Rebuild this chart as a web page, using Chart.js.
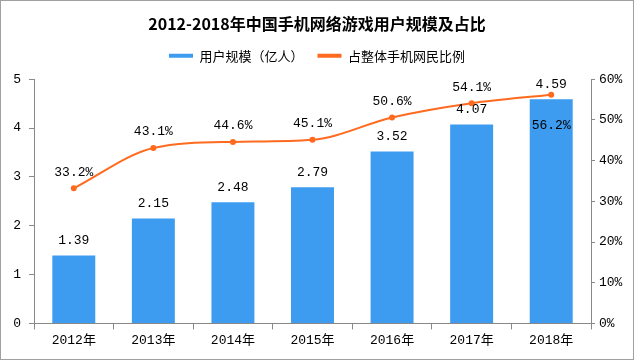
<!DOCTYPE html>
<html><head><meta charset="utf-8">
<script src="https://cdn.jsdelivr.net/npm/chart.js@4/dist/chart.umd.min.js"></script>
<style>html,body{margin:0;padding:0;background:#fff}#wrap{width:634px;height:360px;position:relative}</style>
</head><body><div id="wrap"><canvas id="c" width="634" height="360"></canvas></div>
<script>
const categories = ['2012年','2013年','2014年','2015年','2016年','2017年','2018年'];
const users = [1.39, 2.15, 2.48, 2.79, 3.52, 4.07, 4.59];
const share = [33.2, 43.1, 44.6, 45.1, 50.6, 54.1, 56.2];
const leftTicks = [0,1,2,3,4,5];
const rightTicks = [0,10,20,30,40,50,60];

const BLUE = '#3E9CF0', ORANGE = '#FF6A1F';
const LBLFONT = '13px "Liberation Mono", "Noto Sans CJK SC", monospace';

const labelsPlugin = {
  id: 'lbls',
  afterDatasetsDraw(chart) {
    const ctx = chart.ctx;
    ctx.save();
    ctx.font = LBLFONT; ctx.fillStyle = '#000'; ctx.textAlign = 'center'; ctx.textBaseline = 'middle';
    chart.getDatasetMeta(0).data.forEach((el, i) => {
      ctx.fillText(users[i].toFixed(2), el.x, el.y - 15);
    });
    const n = share.length;
    chart.getDatasetMeta(1).data.forEach((el, i) => {
      const dy = (i === n - 1) ? 31 : -16;
      ctx.fillText(share[i].toFixed(1) + '%', el.x, el.y + dy);
    });
    ctx.restore();
  }
};
const borderPlugin = {
  id: 'brd',
  afterDraw(chart) {
    const ctx = chart.ctx;
    ctx.save(); ctx.strokeStyle = '#a0a0a0'; ctx.lineWidth = 1;
    ctx.strokeRect(0.5, 0.5, chart.width - 1, chart.height - 1);
    ctx.restore();
  }
};
const legendSpace = {
  id: 'legspace',
  beforeInit(chart) {
    const lg = chart.legend;
    const orig = lg.fit;
    lg.fit = function () { orig.call(this); this.height += 7; };
  }
};

new Chart(document.getElementById('c'), {
  data: {
    labels: categories,
    datasets: [
      { type: 'bar', label: '用户规模（亿人）', data: users, backgroundColor: BLUE, yAxisID: 'y', order: 2,
        categoryPercentage: 0.54, barPercentage: 1 },
      { type: 'line', label: '占整体手机网民比例', data: share, borderColor: ORANGE, backgroundColor: ORANGE,
        borderWidth: 2, pointRadius: 2, pointHoverRadius: 2, yAxisID: 'y1', order: 1,
        cubicInterpolationMode: 'monotone' }
    ]
  },
  options: {
    responsive: false, animation: false,
    layout: { padding: { left: 0, right: 0, top: 12, bottom: 9 } },
    plugins: {
      tooltip: { enabled: false },
      title: { display: true, text: '2012-2018年中国手机网络游戏用户规模及占比', color: '#000',
        font: { family: '"Noto Sans CJK SC", sans-serif', size: 16, weight: 'bold' }, padding: { top: 2, bottom: 2 } },
      legend: {
        display: true,
        labels: {
          color: '#000', font: { family: '"Noto Sans CJK SC", sans-serif', size: 13 },
          boxWidth: 24, boxHeight: 4, padding: 14,
          generateLabels(chart) {
            return [
              { text: '用户规模（亿人）', fillStyle: BLUE, strokeStyle: BLUE, lineWidth: 0, datasetIndex: 0 },
              { text: '占整体手机网民比例', fillStyle: ORANGE, strokeStyle: ORANGE, lineWidth: 0, datasetIndex: 1 }
            ];
          }
        }
      }
    },
    scales: {
      x: {
        grid: { display: true, drawOnChartArea: false, offset: true, tickLength: 6, color: '#888' },
        border: { color: '#888' },
        ticks: { color: '#000', font: { family: '"Liberation Mono", "Noto Sans CJK SC", monospace', size: 13 }, padding: 3 }
      },
      y: {
        position: 'left', min: 0, max: 5,
        afterBuildTicks(s) { s.ticks = leftTicks.map(v => ({ value: v })); },
        afterFit(s) { s.width = 34; },
        grid: { drawOnChartArea: false, tickLength: 5, color: '#888' },
        border: { color: '#888' },
        ticks: { color: '#000', font: { family: '"Liberation Mono", monospace', size: 13 }, padding: 8 }
      },
      y1: {
        position: 'right', min: 0, max: 60,
        afterBuildTicks(s) { s.ticks = rightTicks.map(v => ({ value: v })); },
        afterFit(s) { s.width = 43; },
        grid: { drawOnChartArea: false, tickLength: 4, color: '#888' },
        border: { color: '#888' },
        ticks: { color: '#000', font: { family: '"Liberation Mono", monospace', size: 13 }, padding: 4,
          callback: v => v + '%' }
      }
    }
  },
  plugins: [labelsPlugin, borderPlugin, legendSpace]
});
</script></body></html>
